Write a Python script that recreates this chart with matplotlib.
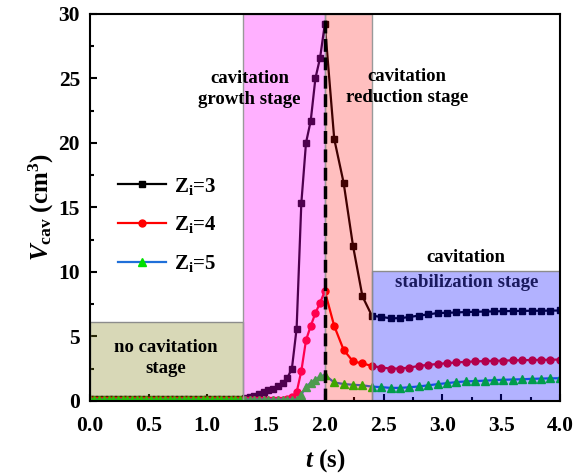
import matplotlib
matplotlib.use("Agg")
from matplotlib import pyplot as plt
from matplotlib.ticker import MultipleLocator

plt.rcParams['font.family'] = ['Liberation Serif', 'DejaVu Serif']
plt.rcParams['font.weight'] = 'bold'
plt.rcParams['mathtext.fontset'] = 'custom'
plt.rcParams['mathtext.rm'] = 'Liberation Serif:bold'
plt.rcParams['mathtext.it'] = 'Liberation Serif:italic:bold'
plt.rcParams['mathtext.bf'] = 'Liberation Serif:bold'

# time (s)
t = [0.00, 0.04, 0.08, 0.12, 0.16, 0.20, 0.24, 0.28, 0.32, 0.36,
     0.40, 0.44, 0.48, 0.52, 0.56, 0.60, 0.64, 0.68, 0.72, 0.76,
     0.80, 0.84, 0.88, 0.92, 0.96, 1.00, 1.04, 1.08, 1.12, 1.16,
     1.20, 1.24, 1.28, 1.32, 1.36, 1.40, 1.44, 1.48, 1.52, 1.56,
     1.60, 1.64, 1.68, 1.72, 1.76, 1.80, 1.84, 1.88, 1.92, 1.96,
     2.00, 2.08, 2.16, 2.24, 2.32, 2.40, 2.48, 2.56, 2.64, 2.72,
     2.80, 2.88, 2.96, 3.04, 3.12, 3.20, 3.28, 3.36, 3.44, 3.52,
     3.60, 3.68, 3.76, 3.84, 3.92, 4.00]

# cavity volume (cm^3)
v_z3 = [0.15, 0.15, 0.15, 0.15, 0.15, 0.15, 0.15, 0.15, 0.15, 0.15,
        0.15, 0.15, 0.15, 0.15, 0.15, 0.15, 0.15, 0.15, 0.15, 0.15,
        0.15, 0.15, 0.15, 0.15, 0.15, 0.15, 0.15, 0.15, 0.15, 0.15,
        0.15, 0.15, 0.15, 0.20, 0.30, 0.40, 0.50, 0.65, 0.80, 0.95,
        1.15, 1.40, 1.75, 2.50, 5.60, 15.3, 20.0, 21.7, 25.0, 26.6,
        29.2, 20.3, 16.9, 12.0, 8.10, 6.60, 6.50, 6.40, 6.40, 6.50,
        6.60, 6.70, 6.80, 6.82, 6.85, 6.88, 6.90, 6.92, 6.93, 6.95,
        6.96, 6.97, 6.98, 6.98, 6.99, 7.00]
v_z4 = [0.05, 0.05, 0.05, 0.05, 0.05, 0.05, 0.05, 0.05, 0.05, 0.05,
        0.05, 0.05, 0.05, 0.05, 0.05, 0.05, 0.05, 0.05, 0.05, 0.05,
        0.05, 0.05, 0.05, 0.05, 0.05, 0.05, 0.05, 0.05, 0.05, 0.05,
        0.05, 0.05, 0.05, 0.05, 0.05, 0.05, 0.05, 0.05, 0.05, 0.05,
        0.05, 0.08, 0.12, 0.30, 0.65, 2.30, 4.70, 5.80, 6.80, 7.60,
        8.50, 5.80, 3.95, 3.05, 2.90, 2.70, 2.58, 2.50, 2.50, 2.58,
        2.70, 2.79, 2.85, 2.92, 2.97, 3.02, 3.05, 3.08, 3.10, 3.12,
        3.13, 3.15, 3.16, 3.17, 3.18, 3.20]
v_z5 = [0.10, 0.10, 0.10, 0.10, 0.10, 0.10, 0.10, 0.10, 0.10, 0.10,
        0.10, 0.10, 0.10, 0.10, 0.10, 0.10, 0.10, 0.10, 0.10, 0.10,
        0.10, 0.10, 0.10, 0.10, 0.10, 0.10, 0.10, 0.10, 0.10, 0.10,
        0.10, 0.10, 0.10, 0.10, 0.10, 0.10, 0.10, 0.10, 0.10, 0.10,
        0.10, 0.10, 0.10, 0.10, 0.10, 0.47, 1.10, 1.40, 1.65, 1.90,
        2.00, 1.42, 1.30, 1.24, 1.20, 1.10, 1.06, 1.00, 1.00, 1.05,
        1.11, 1.20, 1.29, 1.37, 1.45, 1.50, 1.53, 1.56, 1.60, 1.63,
        1.65, 1.67, 1.70, 1.72, 1.74, 1.75]

labels = [r'Z$_{\mathrm{i}}$=3', r'Z$_{\mathrm{i}}$=4', r'Z$_{\mathrm{i}}$=5']

fig, ax = plt.subplots(figsize=(5.79, 4.76), dpi=100)
fig.subplots_adjust(left=0.155, right=0.967, bottom=0.158, top=0.971)

ax.plot(t, v_z3, color='black', lw=1.6, marker='s', ms=4.5, label=labels[0], zorder=2)
ax.plot(t, v_z4, color='red', lw=1.6, marker='o', ms=5, label=labels[1], zorder=2)
ax.plot(t, v_z5, color='#1f6fd9', lw=1.6, marker='^', ms=5.5,
        mfc='#00e000', mec='#00e000', label=labels[2], zorder=2)

# stage shading drawn over the curves
ax.axvspan(0.0, 1.3, ymin=0, ymax=6.1 / 30, facecolor=(0.5, 0.5, 0.07, 0.3),
           edgecolor='0.55', lw=1, zorder=3)
ax.axvspan(1.3, 2.0, facecolor=(1, 0, 1, 0.31), edgecolor='0.6', lw=1, zorder=3)
ax.axvspan(2.0, 2.4, facecolor=(1, 0, 0, 0.25), edgecolor='0.6', lw=1, zorder=3)
ax.axvspan(2.4, 4.0, ymin=0, ymax=10.1 / 30, facecolor=(0, 0, 1, 0.3),
           edgecolor='0.55', lw=1, zorder=3)
ax.axvline(2.0, color='black', ls='--', lw=2.5, zorder=4)

ax.text(0.65, 3.3, 'no cavitation\nstage', ha='center', va='center', fontsize=13.5,
        linespacing=1.3, zorder=5)
ax.text(1.36, 24.2, 'cavitation\ngrowth stage', ha='center', va='center', fontsize=13.5,
        linespacing=1.3, zorder=5)
ax.text(2.70, 24.3, 'cavitation\nreduction stage', ha='center', va='center', fontsize=13.5,
        linespacing=1.3, zorder=5)
ax.text(3.20, 11.1, 'cavitation', ha='center', va='center', fontsize=13.5, zorder=5)
ax.text(3.21, 9.2, 'stabilization stage', ha='center', va='center', fontsize=13.5,
        color='#1a1a5e', zorder=5)

ax.set_xlim(0, 4.0)
ax.set_ylim(0, 30)
ax.xaxis.set_major_locator(MultipleLocator(0.5))
ax.xaxis.set_minor_locator(MultipleLocator(0.25))
ax.yaxis.set_major_locator(MultipleLocator(5))
ax.yaxis.set_minor_locator(MultipleLocator(2.5))
ax.tick_params(which='both', direction='in', top=False, right=False, width=1.5)
ax.tick_params(which='major', length=5, labelsize=15.5)
ax.tick_params(which='minor', length=3)
ax.tick_params(axis='x', pad=11)
ax.tick_params(axis='y', pad=7)
ax.set_xticklabels([f'{v:.1f}' for v in ax.get_xticks()])
for s in ax.spines.values():
    s.set_linewidth(1.5)
    s.set_zorder(6)

ax.set_xlabel(r'$t$ (s)', fontsize=18, fontweight='bold', labelpad=8)
ax.set_ylabel(r'$V_{\mathrm{cav}}$ (cm$^3$)', fontsize=18, fontweight='bold', labelpad=2)

ax.legend(loc='upper left', bbox_to_anchor=(0.02, 0.63), frameon=False, fontsize=15,
          handlelength=2.3, handletextpad=0.4, labelspacing=0.85)

fig.savefig('out.png', dpi=100)
